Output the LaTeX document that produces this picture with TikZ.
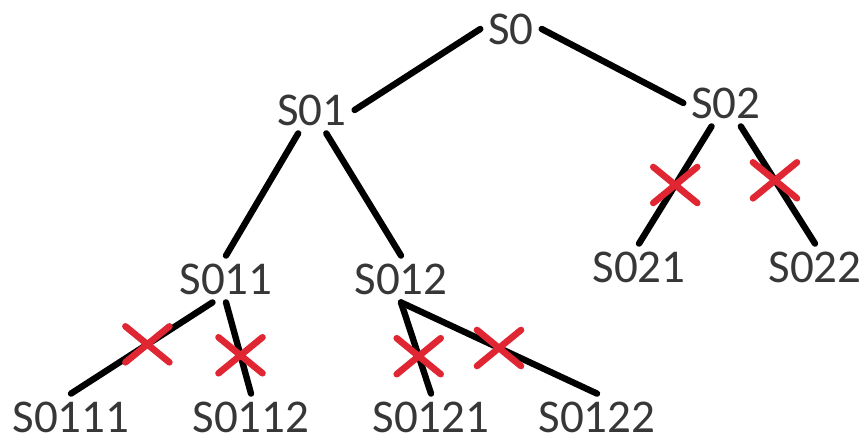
\documentclass[tikz,border=0pt]{standalone}
\usepackage{fontspec}
\setmainfont{Carlito}
\usetikzlibrary{shapes.misc}
\definecolor{crossred}{RGB}{224,38,50}
\definecolor{labelgray}{RGB}{55,55,55}

\begin{document}
\begin{tikzpicture}[x=0.5pt, y=-0.5pt,
    state/.style={inner sep=2pt, outer sep=2pt, text=labelgray, font=\fontsize{23.5}{23.5}\selectfont},
    branch/.style={line width=3.2pt, line cap=round},
    cut/.style={cross out, draw=crossred, line width=3.3pt, line cap=round, minimum width=22pt, minimum height=18pt, inner sep=0pt, outer sep=0pt}]
    \useasboundingbox (0,0) rectangle (867,442);

    % Draw root and first level
    \node[state] (S0) at (511, 29) {S0};
    \node[state] (S01) at (312, 110) {S01};
    \node[state] (S02) at (726, 103) {S02};

    % Draw second level
    \node[state] (S011) at (226, 279) {S011};
    \node[state] (S012) at (401, 279) {S012};
    \node[state] (S021) at (639, 267) {S021};
    \node[state] (S022) at (815, 267) {S022};

    % Draw third level
    \node[state] (S0111) at (71, 417) {S0111};
    \node[state] (S0112) at (251, 417) {S0112};
    \node[state] (S0121) at (431, 417) {S0121};
    \node[state] (S0122) at (597, 417) {S0122};

    % Draw edges
    \draw[branch] (S0.west) -- (S01.east);
    \draw[branch] (S0.east) -- (S02.west);
    \draw[branch] (S01) -- (S011.north);
    \draw[branch] (S01) -- (S012.north);

    % Draw pruned edges
    \draw[branch] (S02) -- (S021.north) node[cut, pos=0.5] (cut1) {};
    \draw[branch] (S02) -- (S022.north) node[cut, pos=0.46] (cut2) {};
    \draw[branch] (S011.-120) -- (S0111.north) node[cut, pos=0.46] (cut3) {};
    \draw[branch] (S011.south) -- (S0112.north) node[cut, pos=0.58] (cut4) {};
    \draw[branch] (S012.south) -- (S0121.north) node[cut, pos=0.59] (cut5) {};
    \draw[branch] (S012.south) -- (S0122.north) node[cut, pos=0.5] (cut6) {};
\end{tikzpicture}
\end{document}
